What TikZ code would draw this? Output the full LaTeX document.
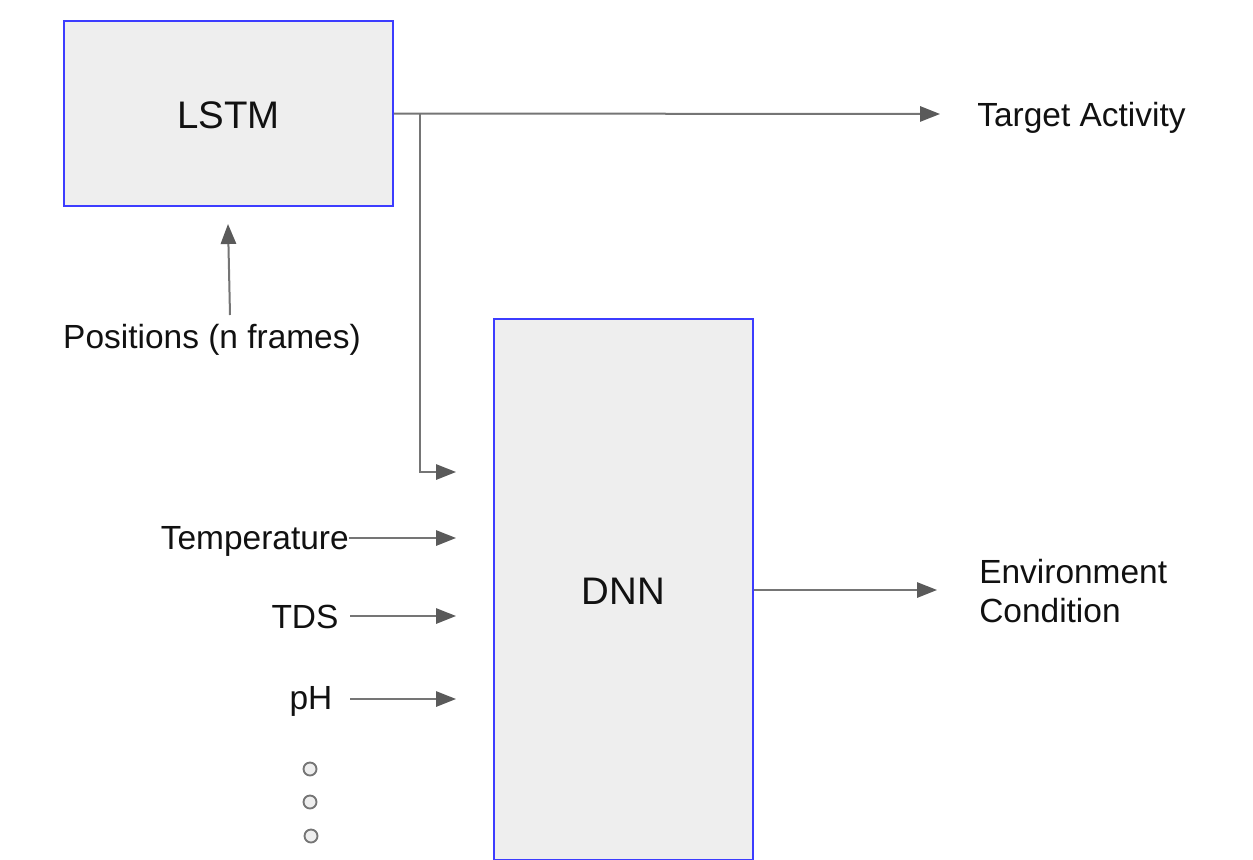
\documentclass[tikz,border=0pt]{standalone}
\usepackage{fontspec}
\setmainfont{Liberation Sans}
\usetikzlibrary{arrows.meta}
\definecolor{boxblue}{HTML}{3C3CFF}
\definecolor{boxfill}{HTML}{EEEEEE}
\definecolor{linegray}{HTML}{757575}
\definecolor{tipgray}{HTML}{5A5A5A}
\definecolor{txt}{HTML}{111111}
\tikzset{
  block/.style={draw=boxblue, fill=boxfill, line width=1.4pt, inner sep=0pt, font=\fontsize{28.5}{34}\selectfont, text=txt},
  lbl/.style={inner sep=0pt, font=\fontsize{25.1}{29.25}\selectfont, text=txt},
  conn/.style={draw=linegray, line width=1.5pt, -{Triangle[length=15pt,width=11.5pt,color=tipgray,fill=tipgray]}},
  dot/.style={circle, draw=linegray, fill=boxfill, line width=1.4pt, minimum size=9.75pt, inner sep=0pt}
}
\begin{document}
\begin{tikzpicture}[x=0.75pt,y=-0.75pt]
\useasboundingbox (0,0) rectangle (1253,860);
\begin{scope}
\clip (0,0) rectangle (1253,860);
% boxes
\node[block, minimum width=246.75pt, minimum height=138.75pt] (lstm) at (228.5,113.5) {};
\node[block, minimum width=194.25pt, minimum height=405.75pt] (dnn) at (623.5,589.5) {};
\end{scope}
\node[lbl, font=\fontsize{28.8}{34}\selectfont, anchor=base] (lstmt) at (228.5,128.5) {LSTM};
\node[lbl, font=\fontsize{28.8}{34}\selectfont, anchor=base] (dnnt) at (623.5,604.5) {DNN};
% labels
\node[lbl, anchor=base west] (target) at (977,126) {Target Activity};
\node[lbl, anchor=base] (pos) at (212,348) {Positions (n frames)};
\node[lbl, anchor=base east] (temp) at (349,549) {Temperature};
\node[lbl, anchor=base] (tds) at (305,628) {TDS};
\node[lbl, anchor=base] (ph) at (311,709) {pH};
\node[lbl, anchor=base west] (env) at (979,583) {Environment};
\node[lbl, anchor=base west] (cond) at (979,622) {Condition};
% coordinates
\coordinate (tgt) at (940,114);
\coordinate (br) at (420,114);
\coordinate (in1) at (456,472);
\coordinate (in2) at (456,538);
\coordinate (in3) at (456,616);
\coordinate (in4) at (456,699);
\coordinate (s3) at (350,616);
\coordinate (s4) at (350,699);
\coordinate (ps) at (230,315);
\coordinate (pe) at (228,224);
\coordinate (envin) at (937,590);
% connectors
\draw[conn] (lstm.east) -- (tgt);
\draw[conn] (br) |- (in1);
\draw[conn] (temp.east |- in2) -- (in2);
\draw[conn] (s3) -- (in3);
\draw[conn] (s4) -- (in4);
\draw[conn] (ps) -- (pe);
\draw[conn] (dnn.east |- envin) -- (envin);
% dots
\node[dot] (d1) at (310,769) {};
\node[dot] (d2) at (310,802) {};
\node[dot] (d3) at (311,836) {};
\end{tikzpicture}
\end{document}
